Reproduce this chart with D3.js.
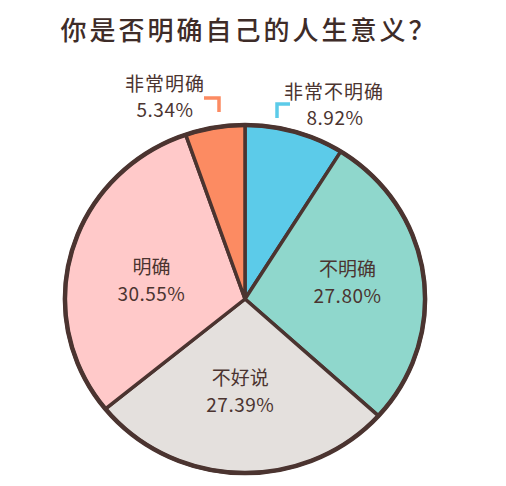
<!DOCTYPE html>
<html>
<head>
<meta charset="utf-8">
<script src="https://cdn.jsdelivr.net/npm/d3@7"></script>
<style>
  html, body { margin: 0; padding: 0; background: #ffffff; }
  svg { display: block; }
  text { font-family: "Noto Sans CJK SC", "Noto Sans", sans-serif; }
</style>
</head>
<body>
<script>
const title = "你是否明确自己的人生意义？";
const categories = ["非常不明确", "不明确", "不好说", "明确", "非常明确"];
const values = [8.92, 27.80, 27.39, 30.55, 5.34];
const valueLabels = ["8.92%", "27.80%", "27.39%", "30.55%", "5.34%"];
const colors = ["#5ccbe9", "#8fd7cc", "#e4e0dd", "#ffc9c9", "#fc8b62"];
const outsideCats = ["非常不明确", "非常明确"];

(function () {
const W = 506, H = 486;
const cx = 245, cy = 299, R = 174, sx = 1.035;
const ink = "#4b3430";
// small hand-placement nudges for the inside labels (layout, not data)
const nudge = { "不明确": [0, -5], "不好说": [-2, -9], "明确": [6, 7] };

const svg = d3.select("body").append("svg").attr("width", W).attr("height", H);
svg.append("rect").attr("width", W).attr("height", H).attr("fill", "#fff");

svg.append("text")
  .attr("x", 249).attr("y", 28)
  .attr("text-anchor", "middle").attr("dominant-baseline", "central")
  .attr("font-size", 26).attr("font-weight", 500)
  .attr("letter-spacing", 3)
  .attr("fill", "#3e2c28")
  .text(title);

const data = categories.map((c, i) => ({ cat: c, value: values[i], label: valueLabels[i], color: colors[i] }));
const pie = d3.pie().sort(null).value(d => d.value);
const arcs = pie(data);
const arc = d3.arc().innerRadius(0).outerRadius(R);
const labelArc = d3.arc().innerRadius(100).outerRadius(100);

const g = svg.append("g").attr("transform", `translate(${cx},${cy}) scale(${sx},1)`);
g.selectAll("path.slice").data(arcs).join("path")
  .attr("class", "slice")
  .attr("d", arc)
  .attr("fill", d => d.data.color)
  .attr("stroke", ink)
  .attr("stroke-width", 3.5)
  .attr("stroke-linejoin", "round")
  .attr("vector-effect", "non-scaling-stroke");
g.append("circle").attr("r", R).attr("fill", "none")
  .attr("stroke", ink).attr("stroke-width", 4.5)
  .attr("vector-effect", "non-scaling-stroke");

const inside = arcs.filter(d => !outsideCats.includes(d.data.cat));
const lg = svg.append("g");
inside.forEach(d => {
  const [x, y] = labelArc.centroid(d);
  const n = nudge[d.data.cat] || [0, 0];
  const px = cx + x * sx + n[0], py = cy + y + n[1];
  lg.append("text").attr("x", px).attr("y", py - 13)
    .attr("text-anchor", "middle").attr("dominant-baseline", "central")
    .attr("font-size", 19).attr("fill", ink).text(d.data.cat);
  lg.append("text").attr("x", px).attr("y", py + 14)
    .attr("text-anchor", "middle").attr("dominant-baseline", "central")
    .attr("font-size", 19).attr("fill", ink).attr("letter-spacing", 0.5).text(d.data.label);
});

const pieTop = cy - R;
const outs = arcs.filter(d => outsideCats.includes(d.data.cat));
outs.forEach(d => {
  const left = d.data.cat === "非常明确";
  const col = d.data.color;
  if (left) {
    const bx = cx - 26, by = pieTop - 27;
    svg.append("path").attr("d", `M${bx - 15},${by} L${bx},${by} L${bx},${by + 14}`)
      .attr("fill", "none").attr("stroke", col).attr("stroke-width", 3.5);
    svg.append("text").attr("x", bx - 54).attr("y", by - 16)
      .attr("text-anchor", "middle").attr("dominant-baseline", "central")
      .attr("font-size", 19).attr("fill", ink).attr("letter-spacing", 1).text(d.data.cat);
    svg.append("text").attr("x", bx - 54).attr("y", by + 10)
      .attr("text-anchor", "middle").attr("dominant-baseline", "central")
      .attr("font-size", 19).attr("fill", ink).attr("letter-spacing", 0.5).text(d.data.label);
  } else {
    const bx = cx + 32, by = pieTop - 21;
    svg.append("path").attr("d", `M${bx + 13},${by} L${bx},${by} L${bx},${by + 14}`)
      .attr("fill", "none").attr("stroke", col).attr("stroke-width", 3.5);
    svg.append("text").attr("x", bx + 57).attr("y", by - 14)
      .attr("text-anchor", "middle").attr("dominant-baseline", "central")
      .attr("font-size", 19).attr("fill", ink).attr("letter-spacing", 1).text(d.data.cat);
    svg.append("text").attr("x", bx + 58).attr("y", by + 12)
      .attr("text-anchor", "middle").attr("dominant-baseline", "central")
      .attr("font-size", 19).attr("fill", ink).attr("letter-spacing", 0.5).text(d.data.label);
  }
});
})();
</script>
</body>
</html>
